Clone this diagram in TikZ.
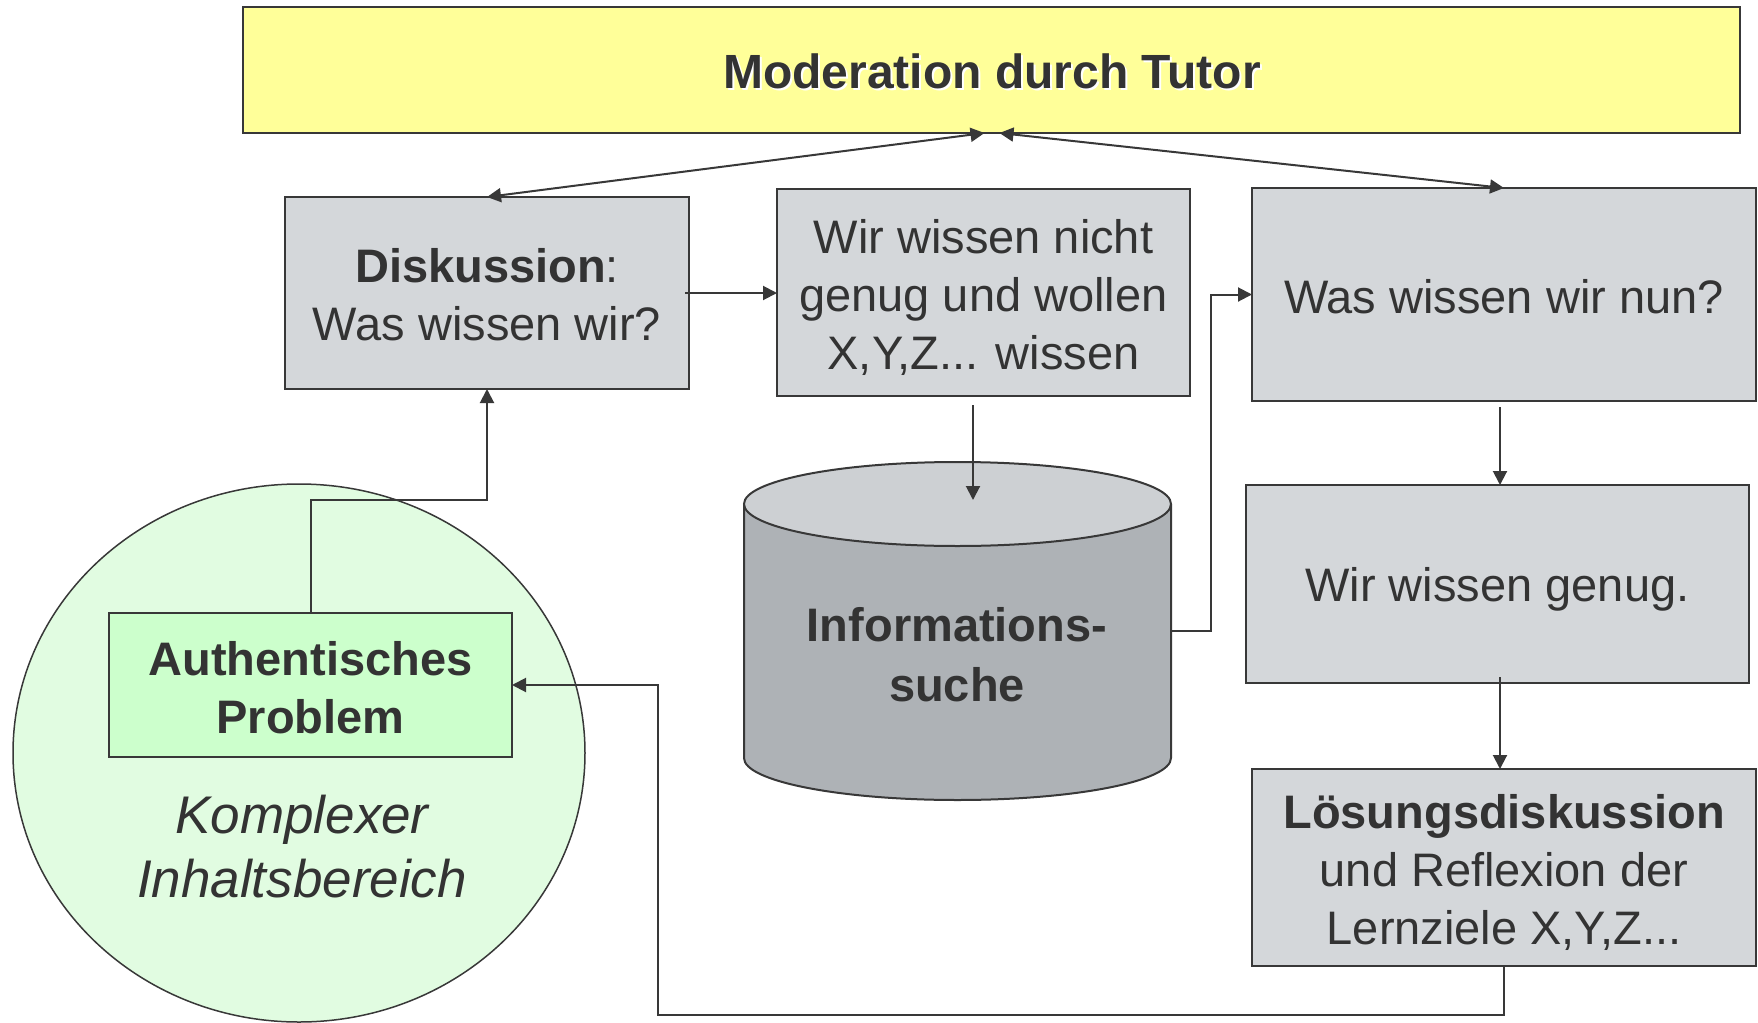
\documentclass[tikz,border=0pt]{standalone}
\usepackage{fontspec}
\setmainfont{Liberation Sans}
\usetikzlibrary{arrows.meta,calc,shapes.geometric}
\definecolor{linec}{HTML}{383838}
\definecolor{textc}{HTML}{333333}
\definecolor{yel}{HTML}{FFFF99}
\definecolor{boxgray}{HTML}{D4D7DA}
\definecolor{cyltop}{HTML}{CDD0D3}
\definecolor{cylbody}{HTML}{AEB2B6}
\definecolor{greenbox}{HTML}{CCFFCC}
\definecolor{greenell}{HTML}{E1FCE1}
\tikzset{
  box/.style={draw=linec, line width=1pt, fill=boxgray, inner sep=0pt, outer sep=0pt},
  txt/.style={text=textc, align=center, inner sep=0pt, font=\fontsize{23.5}{29}\selectfont},
  arr/.style={draw=linec, line width=1pt, -{Triangle[length=7pt,width=7pt]}},
  arrboth/.style={draw=linec, line width=1pt, {Triangle[length=7pt,width=7pt]}-{Triangle[length=7pt,width=7pt]}},
  plain/.style={draw=linec, line width=1pt}
}
\begin{document}
\begin{tikzpicture}[x=0.5pt,y=-0.5pt]
\useasboundingbox (0,0) rectangle (1758,1023);
% top moderation box
\node[box, fill=yel, minimum width=748.5pt, minimum height=63pt] (mod) at (991.5,70) {};
\node[txt, text=white, font=\fontsize{24}{29}\selectfont\bfseries] (modshadow) at (994,73) {Moderation durch Tutor};
\node[txt, font=\fontsize{24}{29}\selectfont\bfseries] (modtext) at (992,71) {Moderation durch Tutor};
% boxes
\node[box, minimum width=202pt, minimum height=96pt] (disk) at (487,293) {};
\node[txt] (disktext) at (487,295) {\textbf{Diskussion}:\\Was wissen wir?};
\node[box, minimum width=206.5pt, minimum height=103.5pt] (need) at (983.5,292.5) {};
\node[txt] (needtext) at (983.5,297.5) {Wir wissen nicht\\genug und wollen\\X,Y,Z... wissen};
\node[box, minimum width=252pt, minimum height=106.5pt] (was) at (1504,294.5) {};
\node[txt] (wastext) at (1504,297) {Was wissen wir nun?};
\node[box, minimum width=251.5pt, minimum height=99pt] (genug) at (1497.5,584) {};
\node[txt] (genugtext) at (1497.5,589.5) {Wir wissen genug.};
\node[box, minimum width=252pt, minimum height=98.5pt] (loes) at (1504,867.5) {};
\node[txt] (loestext) at (1504,872) {\textbf{Lösungsdiskussion}\\und Reflexion der\\Lernziele X,Y,Z...};
% ellipse domain
\node[ellipse, draw=linec, line width=0.75pt, fill=greenell, minimum width=286pt, minimum height=269pt,
  inner sep=0pt, outer sep=0pt] (dom) at (299,753) {};
\node[txt, font=\fontsize{26.5}{32}\selectfont\itshape] (domtext) at (302,847)
  {Komplexer\\Inhaltsbereich};
\node[box, fill=greenbox, minimum width=201.5pt, minimum height=72pt] (auth) at (310.5,685) {};
\node[txt, font=\fontsize{23.5}{29}\selectfont\bfseries] (authtext) at (310.5,687.2) {Authentisches\\Problem};
% cylinder
\fill[cylbody] (744,504) -- (744,758) arc[start angle=180,end angle=360,x radius=106.75pt,y radius=21pt] -- (1171,504) -- cycle;
\draw[plain] (744,504) -- (744,758) arc[start angle=180,end angle=360,x radius=106.75pt,y radius=21pt] -- (1171,504);
\filldraw[fill=cyltop, draw=linec, line width=1pt] (957.5,504) ellipse [x radius=106.75pt, y radius=21pt];
\node[minimum width=213.5pt, minimum height=169pt, inner sep=0pt, outer sep=0pt] (cyl) at (957.5,631) {};
\node[txt, font=\fontsize{23.5}{30}\selectfont\bfseries] (cyltext) at (957,655)
  {Informations-\\suche};
% connectors
\draw[arrboth] (disk.north) -- ([xshift=-3.5pt]mod.south);
\draw[arrboth] ([xshift=4pt]mod.south) -- (was.north);
\draw[arr] ([xshift=-2pt]disk.east) -- (disk.east -| need.west);
\coordinate (needtap) at ($(need.south)+(-10.5,9)$);
\draw[arr] (needtap) -- (needtap |- 0,500);
\draw[arr] (cyl.east) -- ++(40,0) |- (was.west);
\coordinate (wastap) at ($(was.south)+(-4,6)$);
\draw[arr] (wastap) -- (wastap |- genug.north);
\coordinate (genugtap) at ($(genug.south)+(2.5,-6)$);
\draw[arr] (genugtap) -- (genugtap |- loes.north);
\draw[arr] (loes.south) -- ++(0,49) -| ($(auth.east)+(146,0)$) -- (auth.east);
\draw[arr] (auth.north) |- ($(disk.south)+(0,111)$) -- (disk.south);
\end{tikzpicture}
\end{document}
